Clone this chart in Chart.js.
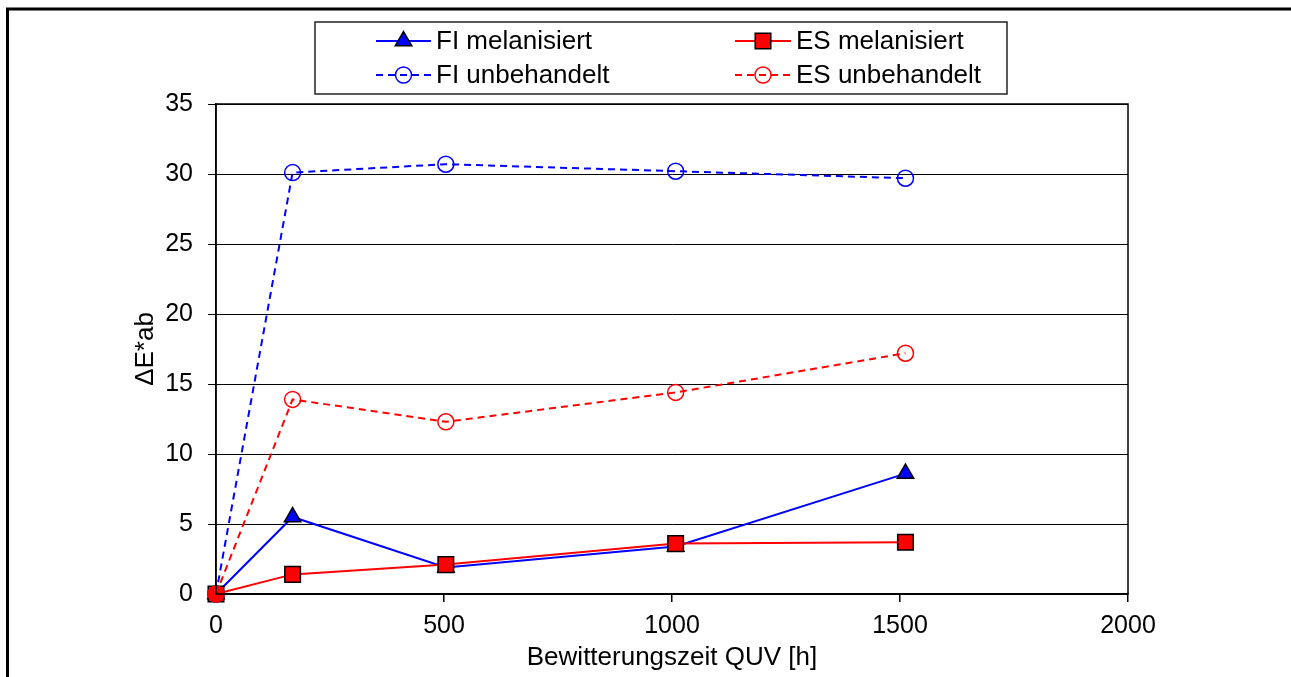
<!DOCTYPE html>
<html>
<head>
<meta charset="utf-8">
<script src="https://cdn.jsdelivr.net/npm/chart.js@4/dist/chart.umd.min.js"></script>
<style>
  html, body { margin: 0; padding: 0; background: #fff; }
  #wrap { width: 1291px; height: 677px; position: relative; }
</style>
</head>
<body>
<div id="wrap"><canvas id="chart"></canvas></div>
<script>
/* data */
const hours = [0, 168, 504, 1008, 1512];
const fiMelanisiert = [0, 5.5, 1.9, 3.4, 8.6];
const esMelanisiert = [0, 1.4, 2.1, 3.6, 3.7];
const fiUnbehandelt = [0, 30.1, 30.7, 30.2, 29.7];
const esUnbehandelt = [0, 13.9, 12.3, 14.4, 17.2];

const seriesNames = ["FI melanisiert", "ES melanisiert", "FI unbehandelt", "ES unbehandelt"];
const xTitle = "Bewitterungszeit QUV [h]";
const yTitle = "\u0394E*ab";

const FONT = "'Liberation Sans', Arial, sans-serif";

function toPoints(values) {
    return hours.map((h, i) => ({ x: h, y: values[i] }));
}

/* frame, plot box and legend */
const framePlugin = {
    id: "frame",
    beforeDraw(chart) {
        const ctx = chart.ctx;
        ctx.save();
        ctx.fillStyle = "#fff";
        ctx.fillRect(0, 0, chart.width, chart.height);
        ctx.strokeStyle = "#000";
        ctx.lineWidth = 3;
        ctx.strokeRect(7.5, 9, 1400, 1000);
        ctx.restore();
    },
    afterDatasetsDraw(chart) {
        const ctx = chart.ctx;
        const a = chart.chartArea;
        ctx.save();
        ctx.strokeStyle = "#000";
        ctx.lineWidth = 1.5;
        ctx.strokeRect(a.left, a.top, a.right - a.left, a.bottom - a.top);
        ctx.restore();
    },
    afterDraw(chart) {
        const ctx = chart.ctx;
        ctx.save();
        ctx.fillStyle = "#fff";
        ctx.fillRect(315, 22, 692, 72);
        ctx.strokeStyle = "#222";
        ctx.lineWidth = 1.5;
        ctx.strokeRect(315, 22, 692, 72);

        const slots = [
            { x1: 376, x2: 431, y: 41 },
            { x1: 735, x2: 791, y: 41 },
            { x1: 376, x2: 431, y: 75 },
            { x1: 735, x2: 791, y: 75 }
        ];
        chart.data.datasets.forEach((ds, i) => {
            const s = slots[i];
            ctx.strokeStyle = ds.borderColor;
            ctx.lineWidth = ds.borderWidth;
            ctx.setLineDash(ds.borderDash || []);
            ctx.beginPath();
            ctx.moveTo(s.x1, s.y);
            ctx.lineTo(s.x2, s.y);
            ctx.stroke();
            ctx.setLineDash([]);
            const bg = Array.isArray(ds.pointBackgroundColor) ? ds.pointBackgroundColor[1] : ds.pointBackgroundColor;
            ctx.fillStyle = bg;
            ctx.strokeStyle = ds.pointBorderColor;
            ctx.lineWidth = ds.pointBorderWidth;
            Chart.helpers.drawPoint(ctx, {
                pointStyle: ds.pointStyle,
                radius: ds.pointRadius,
                rotation: 0,
                borderWidth: ds.pointBorderWidth
            }, (s.x1 + s.x2) / 2, s.y);
            ctx.fillStyle = "#000";
            ctx.font = "26px " + FONT;
            ctx.textBaseline = "middle";
            ctx.textAlign = "left";
            ctx.fillText(ds.label, s.x2 + 5, s.y + 1);
        });
        ctx.restore();
    }
};

const chartCanvas = document.querySelector("#chart");

new Chart(chartCanvas, {
    type: "line",
    data: {
        datasets: [
            {
                label: seriesNames[0],
                data: toPoints(fiMelanisiert),
                borderColor: "#0000ff",
                borderWidth: 2,
                pointStyle: "triangle",
                pointRadius: 9.5,
                pointBackgroundColor: "#0000ff",
                pointBorderColor: "#000",
                pointBorderWidth: 1.5,
                clip: false,
                order: 2
            },
            {
                label: seriesNames[1],
                data: toPoints(esMelanisiert),
                borderColor: "#ff0000",
                borderWidth: 2,
                pointStyle: "rect",
                pointRadius: 11,
                pointBackgroundColor: "#ff0000",
                pointBorderColor: "#000",
                pointBorderWidth: 1.5,
                clip: false,
                order: 1
            },
            {
                label: seriesNames[2],
                data: toPoints(fiUnbehandelt),
                borderColor: "#0000ff",
                borderWidth: 2,
                borderDash: [7, 5],
                pointStyle: "circle",
                pointRadius: 8,
                pointBackgroundColor: "rgba(0,0,0,0)",
                pointBorderColor: "#0000ff",
                pointBorderWidth: 1.5,
                clip: false,
                order: 3
            },
            {
                label: seriesNames[3],
                data: toPoints(esUnbehandelt),
                borderColor: "#ff0000",
                borderWidth: 2,
                borderDash: [7, 5],
                pointStyle: "circle",
                pointRadius: 8,
                pointBackgroundColor: ["#ff0000", "rgba(0,0,0,0)", "rgba(0,0,0,0)", "rgba(0,0,0,0)", "rgba(0,0,0,0)"],
                pointBorderColor: "#ff0000",
                pointBorderWidth: 1.5,
                clip: false,
                order: 0
            }
        ]
    },
    options: {
        responsive: true,
        maintainAspectRatio: false,
        animation: false,
        layout: {
            padding: { left: 0, top: 104, right: 163, bottom: 0 }
        },
        plugins: {
            legend: { display: false },
            tooltip: { enabled: false }
        },
        scales: {
            x: {
                type: "linear",
                min: 0,
                max: 2000,
                afterFit: scale => { scale.height = 83; },
                ticks: {
                    stepSize: 500,
                    color: "#000",
                    padding: 9,
                    font: { family: FONT, size: 25 },
                    callback: value => String(value)
                },
                grid: {
                    drawOnChartArea: false,
                    drawTicks: true,
                    tickLength: 8,
                    color: "#000",
                    lineWidth: 1.5
                },
                border: { display: true, color: "#000", width: 1.5 },
                title: {
                    display: true,
                    text: xTitle,
                    color: "#000",
                    font: { family: FONT, size: 26 },
                    padding: { top: 0, bottom: 4 }
                }
            },
            y: {
                type: "linear",
                min: 0,
                max: 35,
                afterFit: scale => { scale.width = 216; },
                ticks: {
                    stepSize: 5,
                    color: "#000",
                    padding: 15,
                    font: { family: FONT, size: 25 },
                    callback: value => String(value)
                },
                grid: {
                    drawTicks: true,
                    tickLength: 8,
                    color: "#000",
                    lineWidth: 1
                },
                border: { display: true, color: "#000", width: 1.5 },
                title: {
                    display: true,
                    text: yTitle,
                    color: "#000",
                    font: { family: FONT, size: 26 },
                    padding: { top: 130, bottom: 0 }
                }
            }
        }
    },
    plugins: [framePlugin]
});
</script>
</body>
</html>
